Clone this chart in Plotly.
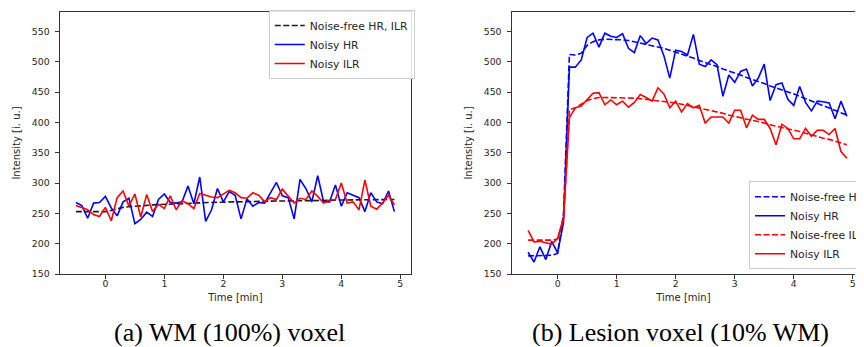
import plotly.graph_objects as go

# ---------------- data ----------------
time_min = [-0.5, -0.4, -0.3, -0.2, -0.1, 0.0, 0.1, 0.2, 0.3, 0.4, 0.5, 0.6, 0.7, 0.8, 0.9,
            1.0, 1.1, 1.2, 1.3, 1.4, 1.5, 1.6, 1.7, 1.8, 1.9, 2.0, 2.1, 2.2, 2.3, 2.4,
            2.5, 2.6, 2.7, 2.8, 2.9, 3.0, 3.1, 3.2, 3.3, 3.4, 3.5, 3.6, 3.7, 3.8, 3.9,
            4.0, 4.1, 4.2, 4.3, 4.4, 4.5, 4.6, 4.7, 4.8, 4.9]

# (a) WM (100%) voxel
wm_noisefree = [253, 253, 253, 253, 253, 253, 255, 258, 260, 261, 262, 263, 263.5, 264, 264.5,
                265, 265.5, 266, 266.5, 267, 267, 267.5, 268, 268, 268.5, 268.5, 269, 269, 269, 269.5,
                269.5, 270, 270, 270, 270.5, 270.5, 270.5, 271, 271, 271, 271, 271.5, 271.5, 271.5, 272,
                272, 272, 272, 272.5, 272.5, 272.5, 272.5, 273, 273, 273]
wm_noisy_hr = [268, 263, 242, 267, 268, 278, 259, 246, 269, 275, 233, 240, 252, 245, 273,
               282, 268, 267, 269, 295, 266, 310, 237, 256, 291, 269, 286, 280, 241, 274,
               262, 268, 267, 284, 301, 279, 276, 241, 306, 291, 269, 312, 269, 269, 297,
               262, 284, 280, 276, 253, 284, 269, 266, 287, 253]
wm_noisy_ilr = [263, 260, 256, 248, 245, 260, 238, 276, 287, 262, 282, 244, 281, 253, 265,
                258, 279, 256, 271, 266, 258, 283, 280, 277, 276, 282, 288, 284, 276, 275,
                284, 280, 269, 276, 273, 290, 279, 267, 275, 273, 287, 278, 267, 272, 273,
                300, 267, 269, 256, 305, 262, 257, 267, 280, 264]

# (b) Lesion voxel (10% WM)
les_noisefree_hr = [180, 180, 180, 180, 181, 184, 250, 512, 511, 514, 527, 533, 536, 537, 537,
                    537, 536, 535, 533, 531, 529, 527, 524, 522, 519, 516, 513, 509, 506, 502,
                    499, 495, 492, 488, 485, 481, 478, 474, 471, 467, 464, 460, 457, 453, 450,
                    447, 443, 439, 435, 432, 428, 424, 420, 416, 412]
les_noisy_hr = [186, 170, 195, 174, 204, 185, 235, 491, 491, 503, 540, 547, 524, 547, 542,
                540, 546, 522, 515, 543, 530, 539, 536, 510, 473, 519, 517, 511, 545, 496,
                492, 503, 495, 443, 478, 466, 484, 488, 460, 473, 496, 436, 462, 465, 438,
                428, 459, 433, 419, 435, 434, 432, 406, 435, 410]
les_noisefree_ilr = [206, 206, 206, 206, 206, 208, 242, 421, 424, 430, 436, 439, 441, 441, 441,
                     441, 441, 440, 440, 439, 438, 437, 436, 434, 433, 432, 430, 428, 426, 424,
                     421, 419, 417, 415, 412, 410, 408, 406, 403, 401, 399, 396, 394, 392, 389,
                     387, 385, 382, 379, 377, 374, 372, 369, 366, 363]
les_noisy_ilr = [222, 203, 204, 202, 199, 209, 242, 408, 424, 427, 437, 448, 449, 429, 437,
                 429, 435, 425, 433, 446, 441, 435, 457, 447, 424, 435, 417, 431, 424, 428,
                 399, 409, 409, 409, 399, 420, 420, 391, 412, 405, 405, 390, 363, 397, 390,
                 373, 373, 390, 377, 387, 387, 380, 390, 352, 341]

x_ticks = [0, 1, 2, 3, 4, 5]
y_ticks = [150, 200, 250, 300, 350, 400, 450, 500, 550]
caption_a = "(a) WM (100%) voxel"
caption_b = "(b) Lesion voxel (10% WM)"

# ---------------- figure ----------------
W, H = 864, 347
BLUE, RED, BLACK = "#0000ff", "#ff0000", "#1a1a1a"
SANS = "DejaVu Sans"
LW = 1.6
DASH = "6px,2.5px"

fig = go.Figure()

fig.add_trace(go.Scatter(x=time_min, y=wm_noisefree, mode="lines", name="Noise-free HR, ILR",
                         line=dict(color=BLACK, width=LW, dash=DASH), xaxis="x", yaxis="y", legend="legend"))
fig.add_trace(go.Scatter(x=time_min, y=wm_noisy_hr, mode="lines", name="Noisy HR",
                         line=dict(color=BLUE, width=LW), xaxis="x", yaxis="y", legend="legend"))
fig.add_trace(go.Scatter(x=time_min, y=wm_noisy_ilr, mode="lines", name="Noisy ILR",
                         line=dict(color=RED, width=LW), xaxis="x", yaxis="y", legend="legend"))

fig.add_trace(go.Scatter(x=time_min, y=les_noisefree_hr, mode="lines", name="Noise-free HR",
                         line=dict(color=BLUE, width=LW, dash=DASH), xaxis="x2", yaxis="y2", legend="legend2"))
fig.add_trace(go.Scatter(x=time_min, y=les_noisy_hr, mode="lines", name="Noisy HR",
                         line=dict(color=BLUE, width=LW), xaxis="x2", yaxis="y2", legend="legend2"))
fig.add_trace(go.Scatter(x=time_min, y=les_noisefree_ilr, mode="lines", name="Noise-free ILR",
                         line=dict(color=RED, width=LW, dash=DASH), xaxis="x2", yaxis="y2", legend="legend2"))
fig.add_trace(go.Scatter(x=time_min, y=les_noisy_ilr, mode="lines", name="Noisy ILR",
                         line=dict(color=RED, width=LW), xaxis="x2", yaxis="y2", legend="legend2"))

ydom = [1 - 270 / H, 1 - 4 / H]
common_x = dict(showline=True, linecolor="#333333", linewidth=1, ticks="outside", ticklen=3.5,
                tickwidth=0.8, tickcolor="#333333", tickvals=x_ticks, showgrid=False, zeroline=False,
                ticklabelstandoff=-3,
                tickfont=dict(family=SANS, size=9.3, color="#262626"),
                title=dict(text="Time [min]", font=dict(family=SANS, size=10, color="#262626"), standoff=6))
common_y = dict(showline=True, linecolor="#333333", linewidth=1, ticks="outside", ticklen=3.5,
                tickwidth=0.8, tickcolor="#333333", tickvals=y_ticks, range=[150, 582], showgrid=False,
                zeroline=False, ticklabelstandoff=4,
                tickfont=dict(family=SANS, size=9.3, color="#262626"),
                title=dict(text="Intensity [i. u.]", font=dict(family=SANS, size=10, color="#262626"), standoff=9))

legend_common = dict(bgcolor="rgba(255,255,255,0.85)", bordercolor="#cccccc", borderwidth=1,
                     font=dict(family=SANS, size=10.8, color="#262626"), tracegroupgap=0)

fig.update_layout(
    width=W, height=H,
    margin=dict(l=0, r=0, t=0, b=0),
    paper_bgcolor="white", plot_bgcolor="white",
    xaxis=dict(domain=[53 / W, 411 / W], range=[-0.77, 5.18], anchor="y", mirror=True, **common_x),
    yaxis=dict(domain=ydom, anchor="x", mirror=True, **common_y),
    xaxis2=dict(domain=[514 / W, 1.0], range=[-0.775, 5.038], anchor="y2", mirror=True, **common_x),
    yaxis2=dict(domain=ydom, anchor="x2", mirror=False, **common_y),
    legend=dict(x=266 / W, y=1 - 2 / H, xanchor="left", yanchor="top", **legend_common),
    legend2=dict(x=756 / W, y=1 - 265 / H, xanchor="left", yanchor="bottom", **legend_common),
    annotations=[
        dict(text=caption_a, xref="paper", yref="paper", x=226 / W, y=1 - 329 / H,
             xanchor="center", yanchor="middle", showarrow=False,
             font=dict(family="Liberation Serif", size=26, color="black")),
        dict(text=caption_b, xref="paper", yref="paper", x=686 / W, y=1 - 329 / H,
             xanchor="center", yanchor="middle", showarrow=False,
             font=dict(family="Liberation Serif", size=26, color="black")),
    ],
)

fig.write_html("out.html")
